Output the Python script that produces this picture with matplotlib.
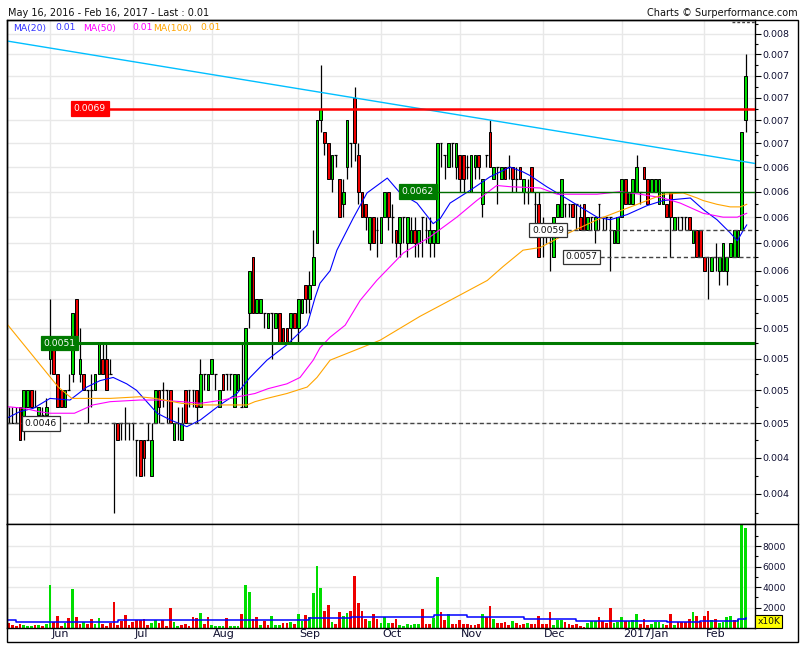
import matplotlib
matplotlib.use("Agg")
import matplotlib.pyplot as plt
from matplotlib import ticker
from matplotlib.lines import Line2D
from matplotlib.patches import Rectangle
from matplotlib.transforms import blended_transform_factory
import numpy as np
import pandas as pd

W, H = 805, 650

# sessions on the chart (weekdays, market shut on 26 Dec)
days = pd.bdate_range("2016-05-16", "2017-02-16")
days = days[days != pd.Timestamp("2016-12-26")]

# daily prices, in units of 0.0001
opens = [46, 46, 46, 46, 47, 46, 47, 48, 47, 46.5,
         46.5, 46.5, 50, 51, 49, 48, 47, 48, 49, 54,
         49, 49, 48, 48, 48, 49, 50, 50, 49, 46,
         46, 46, 46, 46, 46, 45, 45, 45, 45, 43,
         46, 48, 48, 48, 48, 45, 46, 45, 48, 48,
         48, 48, 47, 49, 48, 49, 49, 47, 49, 49,
         49, 47, 48, 47, 47, 53, 57, 53, 53, 53,
         52, 53, 52, 53, 52, 52, 52, 53, 52, 53,
         55, 54, 55, 58, 68, 67, 66, 63, 65, 63,
         61, 64, 66, 70, 65, 62, 61, 58, 60, 59,
         58, 60, 62, 60, 59, 58, 60, 58, 58, 59,
         58, 60, 59, 58, 58, 58, 66, 65, 64, 66,
         64, 65, 65, 64, 62, 64, 65, 61, 65, 67,
         63, 64, 63, 64, 64, 64, 63, 64, 62, 62,
         64, 61, 61, 59, 59, 58, 57, 60, 60, 61,
         61, 61, 61, 60, 61, 59, 60, 59, 61, 60,
         60, 60, 58, 58, 60, 63, 61, 61, 62, 62,
         64, 63, 62, 62, 61, 61, 61, 62, 59, 60,
         60, 60, 60, 58, 59, 59, 57, 57, 56, 57,
         56, 56, 56, 57, 57, 57, 59, 68]
highs = [47, 47, 47, 47, 47, 48, 48, 48, 48, 47,
         47, 47.5, 54, 51, 49, 48, 48, 49, 53, 54,
         52, 49, 48, 49, 49, 51, 51, 51, 50, 46,
         46, 46, 47, 46, 46, 45, 45, 45, 46, 46,
         48, 48, 48.5, 48, 48, 46, 47, 47, 48, 48,
         48, 48, 50, 49, 49, 50, 49, 48, 49, 49,
         49, 49, 49, 51, 52, 56, 57, 54, 54, 53,
         53, 53, 53, 53, 52, 52, 53, 53, 54, 54,
         55, 56, 59, 68, 73, 67, 66, 65, 65, 63,
         63, 68, 66, 71, 66, 62, 61, 60, 60, 60,
         60, 62, 62, 61, 59, 60, 60, 60, 60, 60,
         59, 60, 60, 60, 59, 66, 66, 65, 66, 66,
         66, 65, 65, 65, 65, 65, 65, 63, 65, 68,
         64, 64, 64, 64, 65, 64, 64, 64, 63, 63,
         64, 62, 62, 60, 59, 59, 60, 61, 63, 61,
         61, 61, 61, 61, 61, 60, 60, 60, 61, 60,
         60, 60, 59, 60, 63, 63, 62, 63, 65, 62,
         64, 63, 63, 63, 63, 62, 61, 62, 60, 60,
         60, 60, 60, 59, 59, 59, 57, 57, 57, 58,
         57, 58, 57, 58, 59, 59, 67, 74]
lows = [46, 46, 46, 46, 45, 45, 47, 47, 47, 46,
        46, 46.5, 49, 49, 47, 47, 47, 48, 48.5, 51.5,
        48.5, 48, 46, 47, 48, 49, 49, 48, 49, 41,
        45, 45, 45, 45, 45, 43, 43, 43, 45, 43,
        46, 46, 47, 46, 46, 45, 45, 45, 46, 47,
        47, 46, 47, 48, 48, 49, 48, 47, 48, 48,
        48, 47, 48, 47, 47, 52, 53, 53, 53, 52,
        52, 50, 52, 51, 51, 51, 51, 52, 51, 53,
        53, 53, 55, 58, 67, 65, 63, 62, 64, 60,
        60, 63, 64, 64.5, 61, 60, 59, 57.5, 58, 57,
        58, 60, 59, 58, 57, 57, 58, 57, 58, 57,
        57, 57, 58, 57, 57, 58, 64, 63, 64, 64,
        63, 62, 62, 63, 62, 63, 63, 60, 64, 64,
        63, 61, 63, 63, 63, 62, 62, 63, 61, 61,
        62, 59, 57, 57, 58, 56, 57, 60, 60, 60,
        60, 60, 59, 59, 59, 59, 59, 58, 59, 59,
        59, 56, 58, 58, 60, 61, 61, 61, 62, 61,
        63, 61, 62, 62, 61, 61, 60, 57, 59, 59,
        59, 59, 59, 58, 57, 57, 56, 54, 56, 56,
        55, 56, 55, 57, 57, 57, 59, 67]
closes = [46, 46, 46, 46, 45, 48, 48, 47, 47, 47,
          46.5, 47, 50.7, 49, 47, 47, 48, 48, 53, 51.5,
          50, 48, 48, 48, 49, 51, 49, 48, 49, 46,
          45, 46, 46, 46, 46, 45, 43, 44, 45, 45,
          48, 47, 48, 48, 46, 46, 46, 46, 46, 48,
          48, 47, 49, 49, 49, 50, 49, 48, 48, 49,
          49, 49, 49, 47, 52, 56, 53, 54, 54, 53,
          53, 53, 53, 51, 51, 51, 53, 52, 54, 54,
          54, 55, 57, 68, 69, 66, 63, 65, 65, 60,
          62, 68, 66, 66, 62, 60, 60, 60, 58, 59,
          60, 62, 60, 60, 58, 60, 60, 60, 59, 58,
          59, 60, 59, 59, 59, 66, 66, 65, 66, 66,
          66, 63, 63, 64, 65, 65, 64, 63, 65, 64,
          64, 64, 64, 63, 64, 63, 63, 63, 63, 62,
          62, 61, 57, 59, 59, 58, 60, 61, 63, 61,
          61, 60, 61, 59, 59, 60, 60, 60, 61, 60,
          60, 60, 59, 60, 63, 61, 62, 63, 64, 62,
          63, 61, 63, 63, 63, 62, 60, 60, 60, 60,
          60, 60, 59, 59, 57, 57, 56, 57, 57, 57,
          57, 58, 57, 58, 59, 59, 67, 72]

# volume (x10K) and its bar colour (g = up day, r = down day)
volumes = [490, 490, 290, 160, 390, 290, 195, 160, 290, 290,
           195, 360, 4190, 620, 1170, 195, 490, 975, 3800, 1070,
           420, 585, 420, 880, 420, 975, 420, 195, 490, 2535,
           290, 680, 1270, 290, 585, 750, 750, 880, 290, 490,
           750, 490, 750, 160, 1950, 585, 195, 290, 420, 195,
           1070, 975, 1460, 420, 1070, 290, 160, 160, 160, 975,
           160, 160, 160, 1365, 4190, 3510, 880, 1070, 290, 680,
           290, 1170, 290, 290, 490, 490, 585, 420, 1365, 680,
           1270, 1070, 3410, 6045, 3900, 1660, 2240, 585, 390, 1560,
           1170, 1460, 1660, 5070, 2440, 1660, 880, 680, 1365, 880,
           490, 1070, 490, 490, 880, 290, 195, 390, 290, 390,
           390, 1850, 390, 390, 975, 4970, 1560, 780, 1365, 390,
           390, 780, 390, 390, 290, 290, 390, 1365, 1070, 2145,
           880, 490, 490, 585, 290, 680, 490, 290, 390, 490,
           390, 390, 1170, 390, 390, 1560, 290, 780, 780, 585,
           390, 290, 390, 195, 100, 490, 680, 680, 1070, 680,
           490, 1920, 490, 585, 1070, 680, 680, 780, 1365, 390,
           880, 290, 390, 585, 585, 390, 290, 1365, 290, 585,
           585, 585, 880, 1560, 1170, 585, 1170, 1660, 780, 880,
           490, 585, 1070, 1170, 780, 880, 10100, 9780]
vol_colors = ("rrrrrgggrg" "rggrrrgrgr" "rgrrggrrrr" "rrrrrrrrrg" "grrrrggrrr"
              "rrgrrggggr" "gggrggrrgr" "rgggrrgrgg" "rggggrrgrr" "ggrrrrrgrr"
              "gggrrggggg" "grrrggrrgr" "rrrrrrrgrr" "grrrrgrrrg" "rrrrrrgggr"
              "rrrrrggg" "rrrrgggrgggr" "rrggggrrgr" "rrrgrrrrgr" "ggggrggg")

# moving averages: (day index, price in 0.0001)
ma20_day = [0.5, 4, 7.6, 12, 17.3, 21.8, 25.3, 28.8, 32.4, 35, 40.5, 44, 48.4, 52,
            57.2, 61.7, 65.2, 69.7, 75, 80.4, 82.5, 83.8, 86.5, 88.3, 92.6, 96.3,
            101.7, 105.1, 109.6, 113.9, 115.8, 118.4, 123.7, 129, 134.4, 137.8,
            139.7, 144.1, 148.6, 153, 157.5, 161, 165.5, 170.8, 175.1, 182.3,
            185.7, 189.4, 192.9, 194.8, 196.4, 197.3]
ma20_val = [46.3, 46.7, 46.9, 47.5, 47.4, 48.2, 48.6, 48.8, 48.4, 48.0, 46.6, 46.2,
            45.8, 46.2, 47.1, 47.8, 48.8, 49.9, 50.9, 52.2, 54.1, 55.1, 56.0, 57.5,
            59.9, 61.9, 63.1, 61.9, 61.1, 59.5, 59.9, 61.1, 62.1, 63.2, 64.0, 63.6,
            63.3, 62.4, 61.6, 60.8, 60.0, 59.8, 60.2, 60.9, 61.3, 61.5, 60.6, 59.8,
            58.8, 58.2, 59.0, 59.4]
ma50_day = [0.5, 5, 9, 12, 18.5, 23.4, 28, 35.9, 41, 47, 52, 58, 62, 66.5, 70, 75,
            78.5, 82, 83.8, 86.5, 90.5, 94.5, 98.9, 106, 113.1, 120.2, 125.5,
            130.8, 134.4, 142.4, 146.9, 157.5, 163.6, 168.9, 175.1, 179.6, 185.7,
            191, 194.8, 197.3]
ma50_val = [47.0, 46.9, 46.7, 46.6, 46.6, 47.1, 47.3, 47.4, 47.4, 47.3, 47.2, 47.4,
            47.6, 47.8, 48.1, 48.4, 48.8, 49.9, 50.7, 51.4, 52.2, 53.9, 55.3, 57.3,
            58.5, 60.0, 61.3, 62.5, 62.4, 62.3, 61.8, 61.8, 62.0, 61.8, 61.5, 61.1,
            60.3, 60.0, 60.0, 60.3]
ma100_day = [0.5, 14.2, 17.8, 28, 35.9, 40, 47, 52, 58, 64.4, 66.5, 69.7, 75,
             80.4, 83, 86.5, 99.8, 110.4, 118.4, 128.3, 132.5, 137.8, 142.4,
             148.5, 157.5, 162.8, 168.2, 175.1, 180.4, 184.1, 185.7, 189.4,
             192.9, 195.6, 197.3]
ma100_val = [52.3, 48.2, 47.5, 47.5, 47.6, 47.5, 47.2, 47.1, 47.1, 47.1, 47.3, 47.5,
             47.8, 48.2, 48.8, 49.9, 51.2, 52.8, 53.9, 55.3, 56.3, 57.5, 57.7, 58.6,
             59.8, 60.4, 61.0, 61.8, 61.9, 61.5, 61.3, 61.0, 60.8, 60.8, 61.0]
vol_ma_day = [0, 3, 12, 30, 63, 81, 92, 114, 123, 138, 152, 176, 185, 195, 197]
vol_ma_val = [750, 560, 620, 750, 810, 940, 1100, 1270, 1100, 880, 680, 560, 650,
              880, 940]

# trend line through the chart (day index, price in 0.0001)
trend_day = [0.48, 199.5]
trend_val = [75.3, 64.3]

GREEN = "#00dd00"
RED = "#ee0000"

x = np.arange(len(days))
o = np.array(opens) * 1e-4
hi = np.array(highs) * 1e-4
lo = np.array(lows) * 1e-4
c = np.array(closes) * 1e-4
up = c > o
down = c < o
flat = c == o

fig = plt.figure(figsize=(W / 100, H / 100), dpi=100)
ax = fig.add_axes([7 / W, (H - 524) / H, 748 / W, 504 / H])
axv = fig.add_axes([7 / W, (H - 628) / H, 748 / W, 104 / H], sharex=ax)

# month starts
month_idx = [i for i in range(1, len(days)) if days[i].month != days[i - 1].month]
month_lbl = [(f"{days[i].year}" if days[i].month == 1 else "") + days[i].strftime("%b")
             for i in month_idx]

# --- price panel ---
ax.set_yscale("log")
ax.set_xlim(0.56, 199.5)
ax.set_ylim(40.4e-4, 77.36e-4)

bw = 0.72
ax.vlines(x, lo, hi, color="black", lw=0.9, zorder=2)
ax.bar(x[up], (c - o)[up], bottom=o[up], width=bw, color=GREEN,
       edgecolor="black", lw=0.7, zorder=3)
ax.bar(x[down], (o - c)[down], bottom=c[down], width=bw, color=RED,
       edgecolor="black", lw=0.7, zorder=3)
ax.hlines(o[flat], x[flat] - bw / 2, x[flat] + bw / 2, color="black", lw=0.9, zorder=3)

ax.plot(ma20_day, np.array(ma20_val) * 1e-4, color="#0000ff", lw=0.8, zorder=4)
ax.plot(ma50_day, np.array(ma50_val) * 1e-4, color="#ff00ff", lw=0.8, zorder=4)
ax.plot(ma100_day, np.array(ma100_val) * 1e-4, color="#ffa500", lw=0.8, zorder=4)
ax.plot(trend_day, np.array(trend_val) * 1e-4, color="#00bfff", lw=1.0, zorder=5)

# support / resistance levels and their labels
ax.hlines(0.0069, 27.5, 199.5, color="#ff0000", lw=1.8, zorder=5)
ax.hlines(0.0051, 19.4, 199.5, color="#007a00", lw=2.2, zorder=5)
ax.hlines(0.0062, 115, 199.5, color="#006e00", lw=1.0, zorder=5)
ax.hlines(0.0046, 0.56, 199.5, color="#444444", lw=1.0, linestyles=(0, (3, 2)), zorder=5)
ax.hlines(0.0059, 149.5, 199.5, color="#444444", lw=1.0, linestyles=(0, (3, 2)), zorder=5)
ax.hlines(0.0057, 158.3, 199.5, color="#444444", lw=1.0, linestyles=(0, (3, 2)), zorder=5)
ax.hlines(0.00772, 193.5, 199.5, color="#444444", lw=1.0, linestyles=(0, (2, 1.5)), zorder=5)


def level_tag(day, value, fc, tc, ec=None):
    ax.text(day, value, f"{value:.4f}", color=tc, fontsize=6.6, ha="center", va="center",
            zorder=7, bbox=dict(boxstyle="square,pad=0.3", fc=fc, ec=ec or fc, lw=0.9))


level_tag(22.6, 0.0069, "#ff0000", "white")
level_tag(14.5, 0.0051, "#007a00", "white")
level_tag(109.8, 0.0062, "#007a00", "white")
level_tag(9.6, 0.0046, "white", "#111111", "#333333")
level_tag(144.5, 0.0059, "white", "#111111", "#333333")
level_tag(153.4, 0.0057, "white", "#111111", "#333333")

major = np.arange(42, 77, 2) * 1e-4
minor = np.arange(41, 78, 2) * 1e-4
ax.yaxis.set_major_locator(ticker.FixedLocator(major))
ax.yaxis.set_minor_locator(ticker.FixedLocator(minor))
ax.yaxis.set_major_formatter(ticker.FuncFormatter(lambda v, p: f"{v:.3f}"))
ax.yaxis.set_minor_formatter(ticker.NullFormatter())
ax.yaxis.tick_right()
ax.tick_params(axis="y", which="major", direction="out", length=4, width=0.8,
               pad=1.5, labelsize=6.8, labelcolor="#111133")
ax.tick_params(axis="y", which="minor", direction="out", length=2.5, width=0.8)
ax.set_xticks(month_idx)
ax.tick_params(axis="x", which="both", length=0, labelbottom=False)
ax.grid(True, which="major", color="#e8e8e8", lw=1)
ax.set_axisbelow(True)
for s in ax.spines.values():
    s.set_linewidth(1.0)

# --- volume panel ---
vcol = [GREEN if ch == "g" else RED for ch in vol_colors]
axv.bar(x, volumes, width=bw, color=vcol, lw=0, zorder=2)
axv.plot(vol_ma_day, vol_ma_val, drawstyle="steps-post", color="#0000ff", lw=1.1, zorder=3)
axv.set_ylim(0, 10150)
axv.yaxis.tick_right()
axv.set_yticks([2000, 4000, 6000, 8000])
axv.set_yticks(np.arange(1000, 10000, 1000), minor=True)
axv.yaxis.set_major_formatter(ticker.FuncFormatter(lambda v, p: f"{v:.0f}"))
axv.tick_params(axis="y", which="major", direction="out", length=4, width=0.8,
                pad=1.5, labelsize=6.6, labelcolor="#111133")
axv.tick_params(axis="y", which="minor", direction="out", length=2.5, width=0.8)
axv.tick_params(axis="x", which="both", length=0, labelbottom=False)
axv.grid(True, which="major", color="#e8e8e8", lw=1)
axv.set_axisbelow(True)
for s in axv.spines.values():
    s.set_linewidth(1.0)

tr = blended_transform_factory(axv.transData, axv.transAxes)
for i, lbl in zip(month_idx, month_lbl):
    axv.text(i + 0.4, -0.058, lbl, transform=tr, ha="left", va="center",
             fontsize=8, color="#101030", clip_on=False)
axv.text(1.003, 0.06, "x10K", transform=axv.transAxes, ha="left", va="center",
         fontsize=6.6, color="#111111",
         bbox=dict(boxstyle="square,pad=0.2", fc="#ffff00", ec="black", lw=0.8))

# --- frame and header texts ---
fig.add_artist(Rectangle((7 / W, (H - 642) / H), 791 / W, 622 / H, transform=fig.transFigure,
                         fill=False, ec="black", lw=1.0))
fig.add_artist(Line2D([755 / W, 798 / W], [(H - 524) / H] * 2, transform=fig.transFigure,
                      color="black", lw=1.0))
fig.text(8 / W, 1 - 13 / H, "May 16, 2016 - Feb 16, 2017 - Last : 0.01",
         fontsize=7.0, color="#111111", ha="left", va="center")
fig.text(798 / W, 1 - 13 / H, "Charts \u00a9 Surperformance.com",
         fontsize=7.0, color="#111111", ha="right", va="center")
for px, txt, col in [(13, "MA(20)", "#3333ff"), (55, "0.01", "#3333ff"),
                     (83, "MA(50)", "#ff00ff"), (132, "0.01", "#ff00ff"),
                     (153, "MA(100)", "#ffa500"), (200, "0.01", "#ffa500")]:
    fig.text(px / W, 1 - 28 / H, txt, fontsize=6.7, color=col, ha="left", va="center")

fig.savefig("out.png", dpi=100, facecolor="white")
